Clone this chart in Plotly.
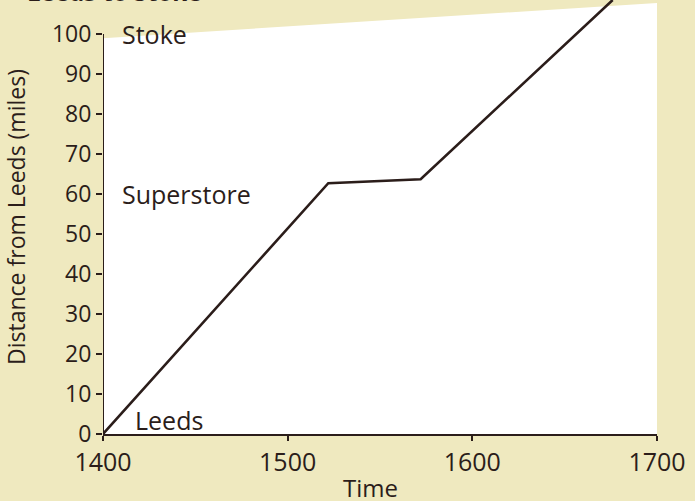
import plotly.graph_objects as go

# Data
time = [1400, 1522, 1572, 1676]
distance = [0, 62.7, 63.7, 108.5]

x_ticks = [1400, 1500, 1600, 1700]
y_ticks = [0, 10, 20, 30, 40, 50, 60, 70, 80, 90, 100]

place_names = ["Stoke", "Superstore", "Leeds"]
place_x = [1409, 1409, 1416]
place_y = [100, 60, 3.5]

FONT = "Open Sans"
INK = "#2b1d1a"
PAPER = "#efe9bf"

fig = go.Figure()
fig.add_trace(go.Scatter(
    x=time, y=distance, mode="lines",
    line=dict(color=INK, width=2.6),
    showlegend=False, hoverinfo="skip",
))

for name, px, py in zip(place_names, place_x, place_y):
    fig.add_annotation(x=px, y=py, text=name, showarrow=False,
                       xanchor="left", yanchor="middle",
                       font=dict(family=FONT, size=25, color=INK))

# x axis title
fig.add_annotation(xref="paper", yref="paper", x=0.482, y=0, yshift=-53,
                   text="Time", showarrow=False,
                   xanchor="center", yanchor="middle",
                   font=dict(family=FONT, size=24, color=INK))

# cut-off heading at the very top of the photographed page
fig.add_annotation(xref="paper", yref="paper", x=-0.141, y=1.0,
                   text="<b>Leeds to Stoke</b>", showarrow=False,
                   xanchor="left", yanchor="bottom", yshift=-10,
                   font=dict(family=FONT, size=24, color=INK))

# y axis line only from 0 to 100
fig.add_shape(type="line", xref="x", yref="y",
              x0=x_ticks[0], x1=x_ticks[0], y0=y_ticks[0], y1=y_ticks[-1],
              line=dict(color=INK, width=2))

# cream page above the white chart area
fig.add_shape(type="path", xref="paper", yref="paper", layer="below",
              path="M 0 0.912 L 1 0.993 L 1 1.05 L 0 1.05 Z",
              fillcolor=PAPER, line=dict(width=0))

fig.update_layout(
    width=695, height=501,
    margin=dict(l=103, r=38, t=0, b=67),
    paper_bgcolor=PAPER,
    plot_bgcolor="white",
    font=dict(family=FONT, color=INK),
    xaxis=dict(
        range=[1400, 1700], tickvals=x_ticks,
        ticktext=[str(v) for v in x_ticks],
        showgrid=False, zeroline=False, automargin=False,
        showline=True, linecolor=INK, linewidth=2,
        ticks="outside", ticklen=5, tickwidth=1.5, tickcolor=INK,
        tickfont=dict(family=FONT, size=25, color=INK),
    ),
    yaxis=dict(
        range=[0, 108.5], tickvals=y_ticks,
        ticktext=[str(v) for v in y_ticks],
        showgrid=False, zeroline=False, showline=False, automargin=False,
        ticks="outside", ticklen=6, tickwidth=1.5, tickcolor=INK,
        tickfont=dict(family=FONT, size=23, color=INK),
        title=dict(text="Distance from Leeds (miles)",
                   font=dict(family=FONT, size=23, color=INK), standoff=20),
    ),
)

fig.write_html("out.html", config={"displayModeBar": False},
               post_script="document.body.style.margin='0px';")
